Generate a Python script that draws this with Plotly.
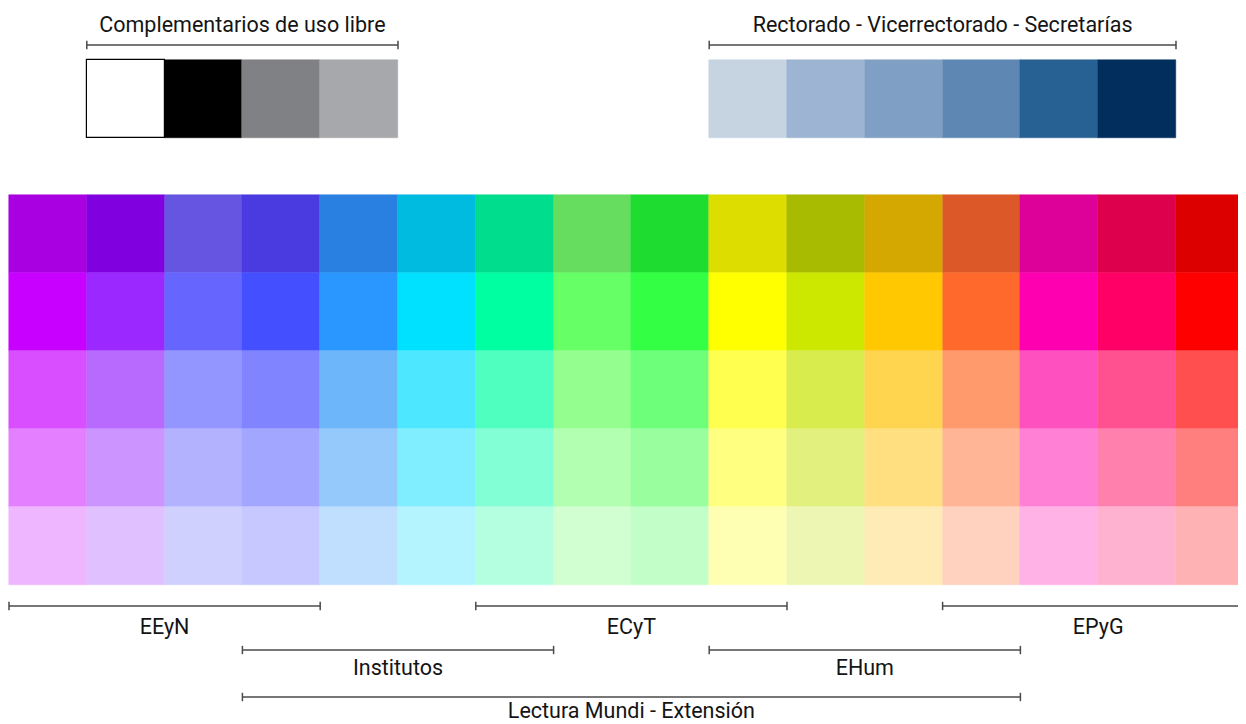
import plotly.graph_objects as go

# paleta principal: 16 columnas x 5 filas (de oscuro a claro)
columnas = list(range(16))
fila_1 = ["#A800E0", "#8000E0", "#6655E0", "#4A3BE0", "#2A80E0", "#00BBE0", "#00DD8C", "#66DD5E",
          "#1EDD30", "#DDDD00", "#A8BB00", "#D4A800", "#DD5828", "#DD0099", "#DD004D", "#DD0000"]
fila_2 = ["#C800FF", "#9A28FF", "#6666FF", "#4450FF", "#2A96FF", "#00E0FF", "#00FFA0", "#66FF66",
          "#33FF44", "#FFFF00", "#CCE800", "#FFC800", "#FF6A2C", "#FF00B0", "#FF0066", "#FF0000"]
fila_3 = ["#D94FFF", "#B86AFF", "#9496FF", "#8084FF", "#6DB6FA", "#4DE8FF", "#4FFFC0", "#94FF8F",
          "#6EFF7A", "#FFFF4F", "#D8EC4E", "#FFD44F", "#FF9A6C", "#FF50C0", "#FF5190", "#FF4F4F"]
fila_4 = ["#E480FF", "#CC94FF", "#B2B2FF", "#A3A6FF", "#95C8FB", "#80EEFF", "#82FFD4", "#B2FFB2",
          "#99FF9E", "#FFFF80", "#E2F07E", "#FFDF80", "#FFB596", "#FF80D4", "#FF80AD", "#FF7F7F"]
fila_5 = ["#EEB6FF", "#E0C0FF", "#D0D0FF", "#C6C8FF", "#C0DEFE", "#B4F4FF", "#B4FFE0", "#D2FFD2",
          "#C2FFC8", "#FFFFB4", "#EEF6B4", "#FFEBB5", "#FFD2C0", "#FFB2E6", "#FFB2D0", "#FFB2B4"]
filas = [fila_1, fila_2, fila_3, fila_4, fila_5]

# paletas superiores
complementarios = ["#FFFFFF", "#000000", "#808184", "#A7A8AB"]
complementarios_cols = [1, 2, 3, 4]
rectorado = ["#C6D4E2", "#9DB5D3", "#7FA0C4", "#5E88B3", "#276092", "#022E5E"]
rectorado_cols = [9, 10, 11, 12, 13, 14]

# grupos de abajo: columna desde / hasta y nivel de llave
grupos = ["EEyN", "ECyT", "EPyG", "Institutos", "EHum", "Lectura Mundi - Extensión"]
grupos_desde = [0, 6, 12, 3, 9, 3]
grupos_hasta = [3, 9, 15, 6, 12, 12]
grupos_nivel = [0, 0, 0, 1, 1, 2]

LINEA = "#4a4a4a"
TEXTO = "#141414"
FUENTE = "Roboto"

fig = go.Figure()

for i, colores in enumerate(filas):
    fig.add_trace(go.Bar(
        x=columnas, y=[1] * len(columnas), base=[i] * len(columnas), width=1,
        marker=dict(color=colores, line=dict(color=colores, width=0.5)),
        hoverinfo="skip"
    ))

# swatches de arriba
arriba = -135 / 78
fig.add_trace(go.Bar(
    x=complementarios_cols, y=[1] * 4, base=[arriba] * 4, width=1,
    marker=dict(color=complementarios,
                line=dict(color=["#000000", "#000000", "#808184", "#A7A8AB"], width=[1.2, 0.5, 0.5, 0.5])),
    hoverinfo="skip"
))
fig.add_trace(go.Bar(
    x=rectorado_cols, y=[1] * 6, base=[arriba] * 6, width=1,
    marker=dict(color=rectorado, line=dict(color=rectorado, width=0.5)),
    hoverinfo="skip"
))


def llave(x0, x1, y, ytxt, texto):
    fig.add_trace(go.Scatter(
        x=[x0, x1], y=[y, y], mode="lines+markers",
        line=dict(color=LINEA, width=1.5),
        marker=dict(symbol="line-ns", size=6, line=dict(color=LINEA, width=1.5)),
        hoverinfo="skip"
    ))
    fig.add_trace(go.Scatter(
        x=[(x0 + x1) / 2], y=[ytxt], mode="text", text=[texto],
        textposition="middle center", cliponaxis=False,
        textfont=dict(family=FUENTE, size=21.5, color=TEXTO),
        hoverinfo="skip"
    ))


# llaves superiores
llave(complementarios_cols[0] - 0.5, complementarios_cols[-1] + 0.5, -150 / 78, -168 / 78,
      "Complementarios de uso libre")
llave(rectorado_cols[0] - 0.5, rectorado_cols[-1] + 0.5, -150 / 78, -168 / 78,
      "Rectorado - Vicerrectorado - Secretarías")

# llaves inferiores
niveles_linea = [411 / 78, 455 / 78, 502 / 78]
niveles_texto = [434 / 78, 475 / 78, 518 / 78]
for g, d, h, n in zip(grupos, grupos_desde, grupos_hasta, grupos_nivel):
    llave(d - 0.5, h + 0.5, niveles_linea[n], niveles_texto[n], g)

fig.update_layout(
    width=1246, height=724,
    margin=dict(l=0, r=0, t=0, b=0),
    paper_bgcolor="white", plot_bgcolor="white",
    barmode="overlay", bargap=0,
    showlegend=False,
)
# la página deja 8px de margen, así que la grilla arranca en x=1, y=187 del gráfico
fig.update_xaxes(range=[-0.5 - 1 / 77.8, -0.5 + 1245 / 77.8], visible=False)
fig.update_yaxes(range=[(724 - 187) / 78, -187 / 78], visible=False)

fig.write_html("out.html")
